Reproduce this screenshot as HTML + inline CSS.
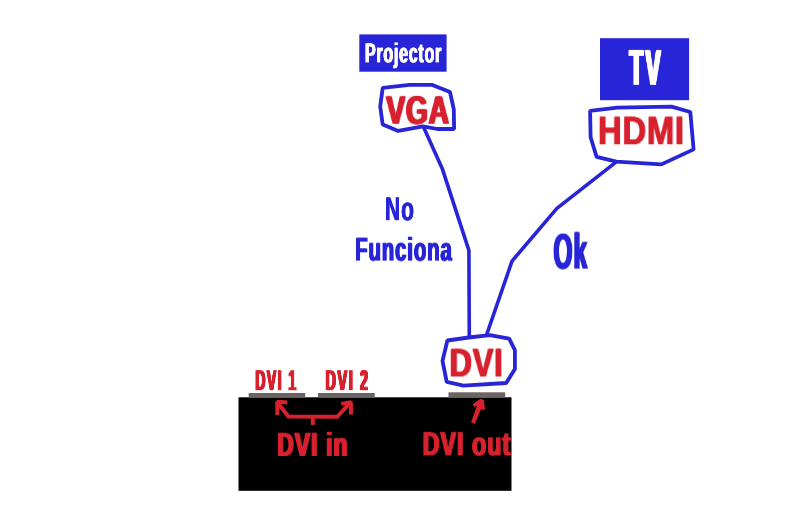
<!DOCTYPE html>
<html lang="es">
<head>
<meta charset="utf-8">
<title>DVI – Projector / TV</title>
<style>
html,body{margin:0;padding:0;background:#fff;}
body{position:relative;width:800px;height:532px;overflow:hidden;}
svg{position:absolute;left:0;top:0;display:block;}
.t{position:absolute;left:0;top:0;margin:0;padding:0;font:bold 40px/40px "Liberation Sans",sans-serif;white-space:nowrap;transform-origin:0 0;will-change:transform;text-rendering:geometricPrecision;}
</style>
</head>
<body>
<svg width="800" height="532" viewBox="0 0 800 532">
<rect x="359.3" y="34.4" width="87.3" height="37.3" fill="#2824d7"/>
<rect x="600" y="38.2" width="89.1" height="62" fill="#2824d7"/>
<rect x="238.5" y="397.3" width="273" height="93.5" fill="#000"/>
<rect x="248.7" y="393.0" width="56.5" height="4.8" fill="#6b6364"/>
<rect x="318" y="393.0" width="56.7" height="4.8" fill="#6b6364"/>
<rect x="448.5" y="392.3" width="56.7" height="5.5" fill="#6b6364"/>
<g fill="none" stroke="#2824d7" stroke-width="3.8" stroke-linejoin="bevel" stroke-linecap="butt">
<path d="M423.3,126.6 L442.2,168.4 L468.9,250.4 L469.3,337.5" stroke-width="3.6"/>
<path d="M616.3,161.8 L556.9,208.4 L512.0,261.1 L486.4,335.3" stroke-width="3.6"/>
<path d="M382.7,87.9 L409.5,84.9 L432.4,84.9 L450.0,92.0 L453.8,109.4 L454.1,129.0 L437.2,129.0 L423.0,126.4 L398.2,130.9 L382.7,124.4 L380.2,106.4 Z" fill="#fff"/>
<path d="M590.1,110.8 L617.3,107.7 L671.5,106.6 L690.3,112.0 L693.6,149.4 L661.4,164.4 L616.5,161.6 L596.6,156.9 L590.6,137.2 Z" fill="#fff"/>
<path d="M447.4,340.5 L468.8,337.5 L489.8,335.2 L509.2,338.6 L514.9,350.2 L514.9,368.9 L506.2,383.0 L463.5,385.6 L446.7,381.8 L442.5,360.9 Z" fill="#fff"/>
</g>
<g fill="none" stroke="#d8212e" stroke-width="4" stroke-linejoin="miter" stroke-linecap="butt">
<path d="M277.3,415.1 L277.3,401.8 L287.1,402.6" stroke-linejoin="bevel"/>
<path d="M277.4,402.5 L288.5,416.4 L337.2,416.8 L350.5,402.4"/>
<path d="M341.3,403.9 L350.9,402.2 L351.0,414.4" stroke-linejoin="bevel"/>
<path d="M312.8,416.5 L312.8,424.9"/>
<path d="M471.06,422.33 L474.91,424.07 L480.81,409.41 L484.97,409.78 L483.91,399.97 L480.5,398.85 L472.73,404.32 L474.6,407.11 L477.08,405.87 Z" fill="#d8212e" stroke="none"/>
</g>
</svg>
<div class="t" style="color:#fff;transform:translate(364.98px,39.70px) scale(0.3981,0.6879);text-shadow:1.432px 0 0 #fff,-1.432px 0 0 #fff;letter-spacing:2.0px;">Projector</div>
<div class="t" style="color:#d8212e;transform:translate(386.27px,90.85px) scale(0.7070,0.9984);text-shadow:1.552px 0 0 #d8212e,-1.552px 0 0 #d8212e;letter-spacing:1.0px;">VGA</div>
<div class="t" style="color:#fff;transform:translate(629.38px,43.35px) scale(0.5612,1.2602);text-shadow:2.112px 0 0 #fff,-2.112px 0 0 #fff;letter-spacing:4.5px;">TV</div>
<div class="t" style="color:#d8212e;transform:translate(598.06px,111.37px) scale(0.8175,0.9967);text-shadow:0.736px 0 0 #d8212e,-0.736px 0 0 #d8212e;letter-spacing:1.0px;">HDMI</div>
<div class="t" style="color:#2824d7;transform:translate(385.12px,192.80px) scale(0.5193,0.8304);text-shadow:0.793px 0 0 #2824d7,-0.793px 0 0 #2824d7;letter-spacing:2.0px;">No</div>
<div class="t" style="color:#2824d7;transform:translate(355.24px,233.32px) scale(0.5031,0.8262);text-shadow:1.444px 0 0 #2824d7,-1.444px 0 0 #2824d7;letter-spacing:2.0px;">Funciona</div>
<div class="t" style="color:#2824d7;transform:translate(553.51px,227.10px) scale(0.6083,1.2576);text-shadow:1.491px 0 0 #2824d7,-1.491px 0 0 #2824d7;letter-spacing:2.0px;">Ok</div>
<div class="t" style="color:#d8212e;transform:translate(449.58px,343.46px) scale(0.7736,1.0032);text-shadow:0.937px 0 0 #d8212e,-0.937px 0 0 #d8212e;letter-spacing:1.0px;">DVI</div>
<div class="t" style="color:#d8212e;transform:translate(255.43px,366.20px) scale(0.3442,0.7281);text-shadow:2.392px 0 0 #d8212e,-2.392px 0 0 #d8212e;letter-spacing:4.5px;">DVI 1</div>
<div class="t" style="color:#d8212e;transform:translate(325.51px,366.22px) scale(0.3597,0.7278);text-shadow:2.353px 0 0 #d8212e,-2.353px 0 0 #d8212e;letter-spacing:4.5px;">DVI 2</div>
<div class="t" style="color:#d8212e;transform:translate(277.22px,428.39px) scale(0.5693,0.8332);text-shadow:1.786px 0 0 #d8212e,-1.786px 0 0 #d8212e;letter-spacing:2.0px;">DVI in</div>
<div class="t" style="color:#d8212e;transform:translate(422.77px,427.56px) scale(0.5751,0.8405);text-shadow:1.580px 0 0 #d8212e,-1.580px 0 0 #d8212e;letter-spacing:2.0px;">DVI out</div>
</body>
</html>
